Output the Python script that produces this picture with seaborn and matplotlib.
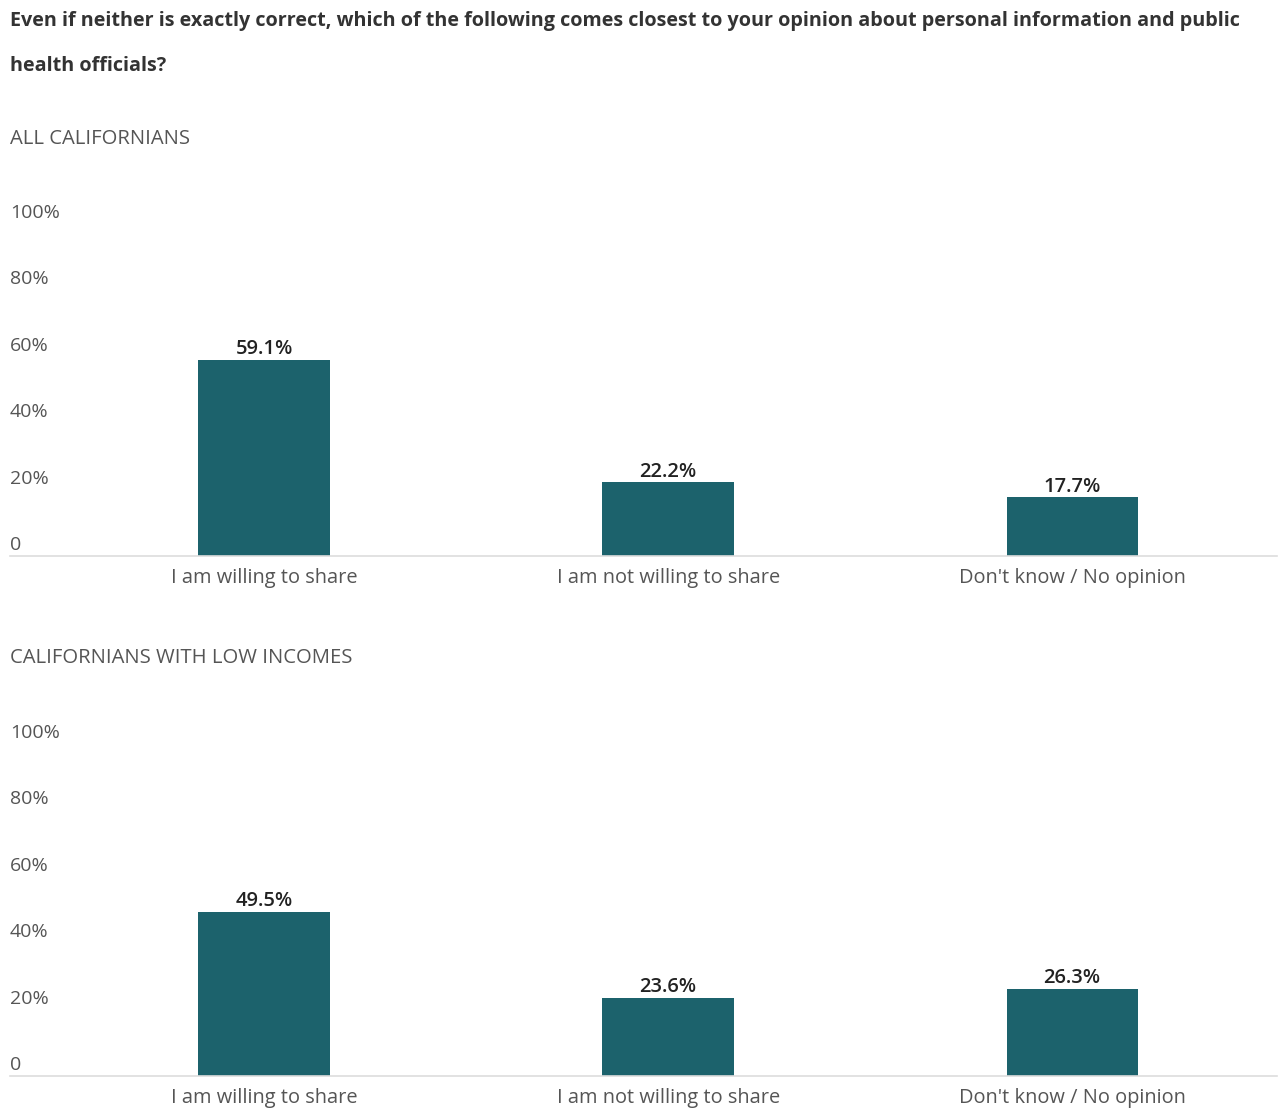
import matplotlib
matplotlib.use("Agg")
import matplotlib.pyplot as plt
import matplotlib.transforms as mtransforms
import seaborn as sns
import pandas as pd

# Survey data
question = ("Even if neither is exactly correct, which of the following comes closest to your opinion about personal information and public\n"
            "health officials?")
categories = ["I am willing to share", "I am not willing to share", "Don't know / No opinion"]
groups = ["ALL CALIFORNIANS", "CALIFORNIANS WITH LOW INCOMES"]
all_values = [59.1, 22.2, 17.7]
low_income_values = [49.5, 23.6, 26.3]
y_ticks = [0, 20, 40, 60, 80, 100]
y_tick_labels = ["0", "20%", "40%", "60%", "80%", "100%"]

BAR = "#1c626c"
TITLE = "#333333"
GREY = "#555555"
FONT = ["Open Sans", "DejaVu Sans"]

sns.set_theme(style="white")
plt.rcParams["font.family"] = FONT

W, H = 1282, 1110
fig = plt.figure(figsize=(W / 100, H / 100), dpi=100)

def fx(px):
    return px / W

def fy(px):
    return 1 - px / H

fig.text(fx(10), fy(21), question.split("\n")[0], ha="left", va="center",
         fontsize=14.2, fontweight="bold", color=TITLE)
fig.text(fx(10), fy(66), question.split("\n")[1], ha="left", va="center",
         fontsize=14.2, fontweight="bold", color=TITLE)

panels = [(groups[0], all_values, 139, 556), (groups[1], low_income_values, 658, 1076)]
left_px, right_px = 10, 1277
scale_px = 332

for name, vals, label_y, base_y in panels:
    fig.text(fx(10), fy(label_y), name, ha="left", va="center",
             fontsize=14.6, color=GREY, fontweight="medium")
    ax = fig.add_axes([fx(left_px), fy(base_y), fx(right_px - left_px), scale_px / H])
    df = pd.DataFrame({"answer": categories, "pct": vals})
    sns.barplot(data=df, x="answer", y="pct", color=BAR, width=0.325,
                saturation=1, ax=ax, edgecolor="none")
    ax.set_ylim(0, 100)
    ax.set_xlim(-0.629, 2.507)
    ax.set_xlabel("")
    ax.set_ylabel("")
    ax.set_yticks([])
    for s in ["top", "right", "left"]:
        ax.spines[s].set_visible(False)
    ax.spines["bottom"].set_color("#dddddd")
    ax.spines["bottom"].set_linewidth(1.2)
    ax.tick_params(axis="x", length=0, pad=9, labelsize=14.4, labelcolor=GREY)
    for lab in ax.get_xticklabels():
        lab.set_fontweight("medium")

    # y labels sit just above their reference levels, flush with the left edge
    trans = mtransforms.blended_transform_factory(ax.transAxes, ax.transData)
    off = mtransforms.offset_copy(trans, fig=fig, x=0, y=2, units="dots")
    for t, lab in zip(y_ticks, y_tick_labels):
        ax.text(0, t, lab, transform=off, ha="left", va="bottom",
                fontsize=14, color=GREY, fontweight="medium")

    for cont in ax.containers:
        ax.bar_label(cont, labels=[f"{v:.1f}%" for v in vals], padding=0.5,
                     fontsize=14.5, color="#222222", fontweight="semibold")

fig.savefig("out.png", dpi=100, facecolor="white")
